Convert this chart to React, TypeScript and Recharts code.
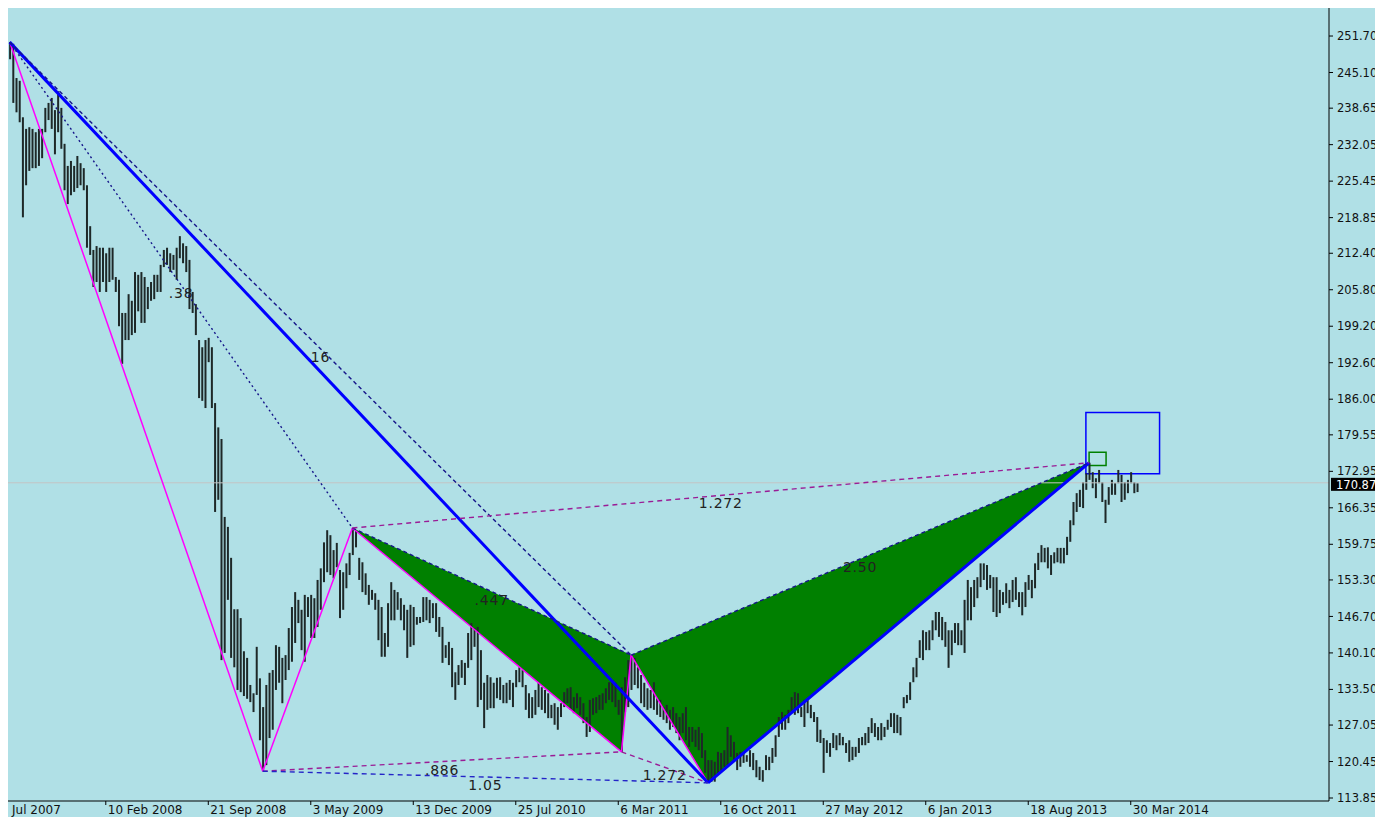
import React from 'react';
import { ComposedChart, Bar, XAxis, YAxis, ReferenceLine, ReferenceArea, ReferenceDot } from 'recharts';

// weekly bars, index 0 = first visible bar (X point)
const barHigh = [
    250.6, 250.3, 244.1, 243.6, 237.0, 234.9, 235.2, 234.9, 234.3, 234.9,
    234.9, 238.7, 239.6, 240.5, 238.3, 241.7, 238.7, 232.2, 228.2, 229.1,
    228.2, 230.0, 228.7, 227.8, 224.7, 217.3, 213.0, 213.7, 213.4, 213.4,
    212.4, 213.4, 213.4, 208.1, 207.6, 201.6, 201.6, 205.0, 203.8, 209.0,
    208.5, 209.0, 208.1, 206.3, 207.2, 208.5, 208.5, 210.3, 213.0, 213.4,
    212.4, 212.1, 213.4, 215.5, 214.2, 213.7, 211.2, 205.4, 203.2, 196.7,
    195.4, 196.7, 197.1, 195.4, 185.3, 180.9, 178.8, 164.7, 162.9, 157.3,
    148.0, 148.0, 146.4, 140.4, 139.2, 134.3, 132.8, 141.2, 135.5, 130.3,
    134.3, 136.5, 137.0, 141.5, 141.2, 139.2, 139.7, 144.6, 148.4, 151.1,
    149.7, 147.9, 150.6, 150.2, 150.6, 150.0, 153.3, 155.4, 160.1, 162.3,
    161.4, 158.7, 160.0, 155.1, 154.7, 156.3, 158.2, 162.7, 162.2, 157.3,
    156.5, 154.5, 152.4, 151.5, 150.9, 149.7, 148.4, 143.7, 149.1, 152.9,
    151.5, 151.1, 150.0, 148.8, 147.9, 148.8, 148.4, 146.6, 146.6, 150.2,
    150.2, 149.7, 149.1, 149.1, 146.6, 144.8, 141.5, 142.1, 141.0, 136.6,
    137.9, 138.8, 138.3, 143.7, 145.5, 144.6, 144.8, 140.6, 134.7, 136.1,
    135.7, 134.7, 135.6, 135.7, 134.3, 134.7, 135.2, 134.7, 137.0, 137.5,
    137.0, 134.3, 132.8, 132.1, 133.4, 134.7, 133.9, 133.4, 132.8, 130.7,
    131.0, 130.3, 131.0, 133.0, 133.7, 133.9, 132.1, 132.8, 132.1, 131.0,
    128.5, 131.6, 131.9, 132.1, 132.5, 132.8, 133.7, 134.8, 135.2, 134.7,
    131.6, 133.9, 135.7, 138.8, 139.7, 139.2, 137.5, 136.1, 134.7, 133.7,
    133.4, 134.8, 131.9, 131.6, 130.3, 130.7, 129.8, 130.3, 129.2, 128.5,
    129.2, 130.3, 126.7, 126.7, 126.2, 126.7, 125.6, 122.5, 120.7, 120.7,
    120.4, 122.2, 122.0, 122.5, 126.7, 125.2, 124.0, 122.0, 122.2, 122.2,
    121.6, 122.5, 122.0, 120.7, 119.5, 118.9, 121.6, 121.3, 122.9, 125.2,
    128.5, 129.4, 128.9, 129.8, 132.1, 133.0, 132.8, 130.3, 131.6, 131.6,
    130.7, 129.4, 128.5, 126.2, 124.7, 124.3, 123.8, 125.6, 125.2, 125.6,
    124.9, 123.8, 124.3, 123.1, 123.1, 124.7, 124.9, 125.6, 126.7, 128.3,
    127.4, 126.7, 127.4, 126.7, 128.0, 129.2, 129.2, 128.9, 128.5, 132.1,
    132.5, 134.8, 137.5, 139.2, 142.4, 144.2, 143.9, 144.2, 146.0, 147.5,
    147.5, 146.6, 145.7, 144.2, 144.2, 145.5, 145.5, 144.2, 149.7, 153.3,
    152.0, 153.3, 153.8, 156.3, 156.3, 156.0, 154.2, 153.8, 153.8, 151.5,
    151.1, 152.7, 151.5, 153.3, 153.8, 151.1, 151.1, 152.9, 154.2, 153.3,
    156.3, 158.2, 159.6, 159.1, 159.2, 157.8, 158.3, 159.1, 159.1, 159.1,
    161.1, 164.1, 167.4, 169.0, 169.6, 171.0, 172.6, 174.5, 172.8, 171.7,
    173.2, 171.0, 167.8, 170.1, 171.4, 170.8, 173.2, 172.3, 171.0, 171.4,
    172.8, 171.0, 170.8,
];

const barLow = [
    247.5, 239.6, 237.9, 236.1, 218.9, 224.7, 227.3, 227.8, 227.8, 228.2,
    229.6, 234.3, 236.5, 234.9, 230.3, 234.3, 231.3, 223.8, 221.3, 222.9,
    223.5, 224.2, 224.7, 223.8, 213.4, 212.1, 206.3, 207.2, 205.4, 207.2,
    205.4, 207.2, 207.6, 205.4, 199.2, 192.4, 196.7, 196.7, 197.6, 198.0,
    201.9, 199.8, 199.8, 202.3, 203.8, 204.1, 205.4, 205.4, 209.9, 210.3,
    209.0, 209.4, 207.6, 211.5, 210.6, 209.0, 202.3, 201.6, 197.6, 186.2,
    185.7, 184.4, 192.7, 184.4, 165.6, 167.8, 138.8, 140.1, 149.7, 139.2,
    137.5, 133.4, 133.0, 132.3, 131.8, 131.2, 129.4, 132.5, 124.3, 118.7,
    119.8, 124.7, 126.2, 133.4, 134.7, 131.0, 135.2, 137.0, 138.5, 141.9,
    145.5, 140.6, 138.5, 146.6, 142.8, 142.8, 144.8, 147.9, 152.9, 154.7,
    154.2, 153.6, 155.6, 146.4, 147.9, 151.8, 154.2, 157.8, 159.2, 153.3,
    151.1, 150.6, 148.8, 149.7, 147.9, 142.4, 139.4, 139.4, 141.2, 146.0,
    146.0, 147.9, 146.0, 144.2, 139.2, 141.2, 141.5, 145.2, 145.5, 145.7,
    146.0, 145.5, 146.4, 143.9, 143.0, 138.3, 139.2, 137.9, 133.9, 131.6,
    134.3, 135.6, 134.3, 137.4, 138.8, 141.2, 130.3, 131.6, 126.5, 129.8,
    130.1, 130.1, 131.9, 131.6, 131.0, 131.0, 131.6, 130.3, 133.9, 134.8,
    133.9, 129.8, 128.3, 128.3, 128.9, 130.3, 129.8, 129.2, 128.3, 128.3,
    127.1, 126.2, 128.5, 130.3, 131.0, 129.8, 129.2, 130.1, 128.9, 127.4,
    124.9, 125.8, 128.9, 129.2, 129.8, 129.8, 131.0, 131.6, 131.2, 130.3,
    128.9, 122.2, 129.4, 130.3, 133.4, 134.3, 133.7, 131.0, 130.3, 129.8,
    130.1, 129.8, 128.9, 128.5, 128.0, 127.4, 126.2, 126.7, 125.6, 124.3,
    125.6, 124.3, 123.1, 124.0, 123.1, 122.5, 121.1, 118.4, 116.6, 116.8,
    116.8, 118.0, 118.9, 119.5, 119.8, 121.3, 120.7, 118.9, 119.5, 120.2,
    120.4, 119.5, 118.9, 117.6, 117.1, 116.8, 118.9, 118.9, 120.2, 121.3,
    124.9, 126.2, 126.2, 127.4, 129.2, 128.9, 129.2, 128.5, 126.7, 129.2,
    128.3, 127.6, 124.0, 123.8, 118.4, 122.0, 121.3, 122.9, 122.5, 123.4,
    123.4, 122.0, 120.4, 120.7, 121.3, 122.0, 123.4, 123.4, 123.8, 125.6,
    124.9, 124.3, 124.3, 124.9, 126.2, 126.7, 125.6, 125.6, 125.2, 130.1,
    131.0, 131.6, 134.8, 135.7, 139.2, 138.8, 140.6, 140.6, 142.4, 144.2,
    143.0, 142.4, 141.2, 137.4, 139.7, 141.9, 141.5, 141.5, 140.1, 146.0,
    146.0, 148.4, 150.0, 152.0, 153.3, 151.5, 151.8, 147.5, 146.6, 147.3,
    148.8, 149.1, 148.2, 149.3, 149.7, 148.4, 146.9, 148.4, 151.5, 150.0,
    151.8, 155.1, 156.5, 156.5, 155.4, 154.2, 156.3, 156.5, 156.3, 156.3,
    157.8, 160.2, 163.2, 165.6, 166.5, 166.3, 169.6, 171.4, 169.9, 168.1,
    170.8, 167.4, 163.6, 166.9, 168.7, 168.7, 170.8, 167.4, 167.8, 169.0,
    170.8, 169.0, 169.2,
];

// pattern points X, A, B, C, C', D, E
const pivotBar = [0, 79, 107, 191, 194, 218, 337];
const pivotPrice = [250.6, 118.7, 162.7, 122.2, 139.7, 116.6, 174.5];

// [from, to, style, ratio label]
const legs: [number, number, string, string][] = [
    [0, 1, 'leg', ''],
    [1, 2, 'leg', ''],
    [2, 3, 'leg', ''],
    [3, 4, 'leg', ''],
    [4, 5, 'leg', ''],
    [0, 5, 'main', ''],
    [5, 6, 'main', ''],
    [0, 2, 'dotNavy', '.38'],
    [0, 4, 'dashNavy', '16'],
    [2, 4, 'dashNavy', '.447'],
    [4, 6, 'dashNavy', '2.50'],
    [2, 6, 'dashPurple', '1.272'],
    [1, 3, 'dashPurple', '.886'],
    [3, 5, 'dashPurple', '1.272'],
    [1, 5, 'dashBlue', '1.05'],
];
const triangles = [[2, 3, 4], [4, 5, 6]];

const targetBox = [336, 359, 172.5, 183.6];
const smallBox = [337, 342.3, 174.0, 176.4];

const dateTickBars = [0.1, 30, 62, 94, 126, 158, 190, 222, 254, 286, 318, 350];
const dateTickLabels = ['Jul 2007', '10 Feb 2008', '21 Sep 2008', '3 May 2009', '13 Dec 2009', '25 Jul 2010',
    '6 Mar 2011', '16 Oct 2011', '27 May 2012', '6 Jan 2013', '18 Aug 2013', '30 Mar 2014'];
const priceTicks = [251.70, 245.10, 238.65, 232.05, 225.45, 218.85, 212.40, 205.80, 199.20, 192.60, 186.00,
    179.55, 172.95, 166.35, 159.75, 153.30, 146.70, 140.10, 133.50, 127.05, 120.45, 113.85];
const lastPrice = 170.87;

const lineStyles: Record<string, any> = {
    leg: { stroke: '#ff00ff', strokeWidth: 1.5 },
    main: { stroke: '#0000ff', strokeWidth: 3 },
    dotNavy: { stroke: '#16168a', strokeWidth: 1.4, strokeDasharray: '2 3' },
    dashNavy: { stroke: '#16168a', strokeWidth: 1.4, strokeDasharray: '4 3' },
    dashPurple: { stroke: '#9a1c96', strokeWidth: 1.4, strokeDasharray: '5 4' },
    dashBlue: { stroke: '#2424c8', strokeWidth: 1.4, strokeDasharray: '5 4' },
};

const FONT = 'DejaVu Sans';

const data = barHigh.map((h, i) => ({ bar: i, range: [barLow[i], h] }));

const BarStick = (props: any) => {
    const { x, y, width, height } = props;
    if (x == null || y == null) return null;
    const top = height < 0 ? y + height : y;
    const h = Math.max(Math.abs(height), 1);
    return <rect x={x + width / 2 - 1} y={top} width={2} height={h} fill="#1e2828" />;
};

const triangleShape = (ids: number[]) => (props: any) => {
    const { x, y, width, height } = props;
    const ks = ids.map((i) => pivotBar[i]);
    const ps = ids.map((i) => pivotPrice[i]);
    const k0 = Math.min(...ks), k1 = Math.max(...ks);
    const p0 = Math.min(...ps), p1 = Math.max(...ps);
    const pts = ids
        .map((_, j) => `${x + ((ks[j] - k0) / (k1 - k0)) * width},${y + ((p1 - ps[j]) / (p1 - p0)) * height}`)
        .join(' ');
    return <polygon points={pts} fill="#008000" />;
};

const DateTick = (props: any) => {
    const { x, y, payload } = props;
    const i = dateTickBars.indexOf(payload.value);
    return (
        <g>
            {i > 0 && <line x1={x} y1={y} x2={x} y2={y + 4} stroke="#000" />}
            <text x={x + 2} y={y + 13} fontSize={12} fontFamily={FONT} fill="#111">
                {dateTickLabels[i]}
            </text>
        </g>
    );
};

const PriceTag = (props: any) => {
    const { x, y, width } = props.viewBox;
    return (
        <g>
            <rect x={x + width + 2} y={y - 5} width={52} height={13} fill="#000" />
            <text x={x + width + 7} y={y + 6} fontSize={11.5} fontFamily={FONT} fill="#fff">
                {lastPrice.toFixed(2)}
            </text>
        </g>
    );
};

export default function App() {
    return (
        <div style={{ width: 1375, height: 809, background: '#b0e0e6', fontFamily: FONT }}>
            <ComposedChart width={1375} height={809} data={data} margin={{ top: 0, right: 0, bottom: 0, left: 0 }}>
                <XAxis
                    dataKey="bar"
                    type="number"
                    domain={[-0.53, 411.9]}
                    allowDataOverflow
                    ticks={dateTickBars}
                    interval={0}
                    tick={<DateTick />}
                    tickLine={false}
                    tickSize={0}
                    tickMargin={0}
                    height={16}
                    axisLine={{ stroke: '#000' }}
                />
                <YAxis
                    orientation="right"
                    type="number"
                    domain={[113.31, 256.77]}
                    allowDataOverflow
                    ticks={priceTicks}
                    interval={0}
                    width={54}
                    tickSize={4}
                    tickMargin={4}
                    tickFormatter={(v: number) => v.toFixed(2)}
                    tick={{ fill: '#111', fontSize: 11.5, fontFamily: FONT }}
                    tickLine={{ stroke: '#000' }}
                    axisLine={{ stroke: '#000' }}
                />
                {triangles.map((t, i) => (
                    <ReferenceArea
                        key={'tri' + i}
                        x1={Math.min(...t.map((j) => pivotBar[j]))}
                        x2={Math.max(...t.map((j) => pivotBar[j]))}
                        y1={Math.min(...t.map((j) => pivotPrice[j]))}
                        y2={Math.max(...t.map((j) => pivotPrice[j]))}
                        ifOverflow="visible"
                        shape={triangleShape(t)}
                    />
                ))}
                <ReferenceLine y={lastPrice} stroke="#c4c4c4" strokeWidth={1} ifOverflow="visible" label={<PriceTag />} />
                <Bar dataKey="range" barSize={2} shape={<BarStick />} isAnimationActive={false} />
                {legs.map(([a, b, s], i) => (
                    <ReferenceLine
                        key={'leg' + i}
                        segment={[{ x: pivotBar[a], y: pivotPrice[a] }, { x: pivotBar[b], y: pivotPrice[b] }]}
                        ifOverflow="visible"
                        {...lineStyles[s]}
                    />
                ))}
                <ReferenceArea x1={targetBox[0]} x2={targetBox[1]} y1={targetBox[2]} y2={targetBox[3]}
                    fill="none" fillOpacity={0} stroke="#0000ff" strokeWidth={1.5} ifOverflow="visible" />
                <ReferenceArea x1={smallBox[0]} x2={smallBox[1]} y1={smallBox[2]} y2={smallBox[3]}
                    fill="none" fillOpacity={0} stroke="#008000" strokeWidth={1.5} ifOverflow="visible" />
                {legs.filter((l) => l[3]).map(([a, b, , label], i) => (
                    <ReferenceDot
                        key={'lbl' + i}
                        x={(pivotBar[a] + pivotBar[b]) / 2}
                        y={(pivotPrice[a] + pivotPrice[b]) / 2}
                        r={0}
                        ifOverflow="visible"
                        shape={(p: any) => (
                            <text x={p.cx} y={p.cy + 13} textAnchor="middle" fontSize={14}
                                fontFamily={FONT} letterSpacing={0.8} fill="#222">
                                {label}
                            </text>
                        )}
                    />
                ))}
            </ComposedChart>
        </div>
    );
}
